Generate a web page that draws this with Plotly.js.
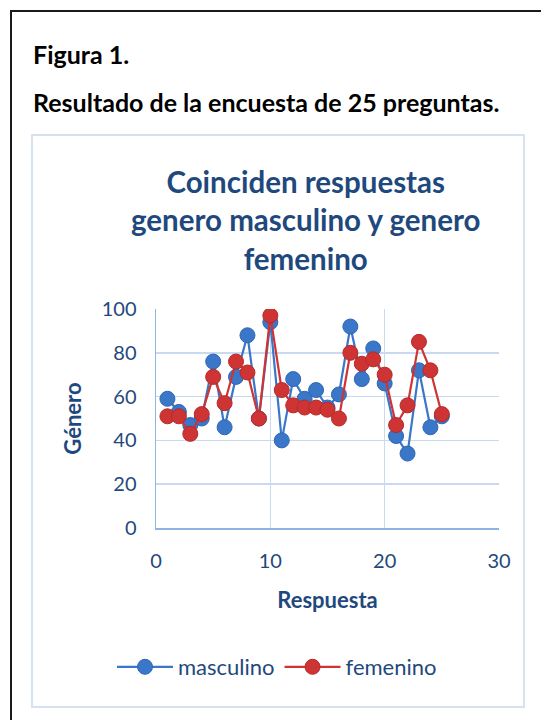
<!DOCTYPE html>
<html>
<head>
<meta charset="utf-8">
<script src="https://cdn.plot.ly/plotly-3.0.1.min.js"></script>
<style>
html,body{margin:0;padding:0;background:#fff;}
#chart{width:541px;height:720px;}
</style>
</head>
<body>
<div id="chart"></div>
<script>
const respuesta = [1,2,3,4,5,6,7,8,9,10,11,12,13,14,15,16,17,18,19,20,21,22,23,24,25];
const masculino = [59,53,47,50,76,46,69,88,50,94,40,68,59,63,55,61,92,68,82,66,42,34,72,46,51];
const femenino  = [51,51,43,52,69,57,76,71,50,97,63,56,55,55,54,50,80,75,77,70,47,56,85,72,52];
const xTicks = [0,10,20,30];
const yTicks = [0,20,40,60,80,100];

const navy = '#1f497d';
const gridC = '#c9daf0';
const axisC = '#8eb4e3';

const L=156, R=499, T=309, B=528, W=541, H=720;
const px = v => (v - L)/(R - L);
const py = v => (B - v)/(B - T);

const traces = [
  {x: respuesta, y: masculino, name: 'masculino', type: 'scatter', mode: 'lines+markers',
   line: {color: '#3a77c8', width: 2.2},
   marker: {color: '#3a77c8', size: 15, line: {color: '#2f67b3', width: 1}}},
  {x: respuesta, y: femenino, name: 'femenino', type: 'scatter', mode: 'lines+markers',
   line: {color: '#cf3434', width: 2.2},
   marker: {color: '#cf3434', size: 15, line: {color: '#b52a2a', width: 1}}}
];

const layout = {
  width: W, height: H,
  paper_bgcolor: '#fff', plot_bgcolor: '#fff',
  margin: {l: L, r: W - R, t: T, b: H - B, pad: 0},
  font: {family: 'Lato, "Open Sans", sans-serif', color: navy},
  showlegend: true,
  legend: {orientation: 'h', x: px(277), y: py(667), xanchor: 'center', yanchor: 'middle',
           itemwidth: 56,
           font: {size: 22, color: navy}, bgcolor: 'rgba(0,0,0,0)', tracegroupgap: 0},
  xaxis: {range: [0, 30], tickvals: xTicks, ticktext: xTicks.map(String),
          showgrid: true, gridcolor: gridC, gridwidth: 1.5,
          showline: true, linecolor: axisC, linewidth: 1.5, zeroline: false,
          ticks: '', ticklabelstandoff: 14, tickfont: {size: 20, color: navy},
          title: {text: '<b>Respuesta</b>', font: {size: 22, color: navy}, standoff: 22}},
  yaxis: {range: [0, 100], tickvals: yTicks, ticktext: yTicks.map(String),
          showgrid: true, gridcolor: gridC, gridwidth: 1.5,
          showline: true, linecolor: axisC, linewidth: 1.5, zeroline: false,
          ticks: '', ticklabelstandoff: 14, tickfont: {size: 20, color: navy},
          title: {text: '<b>Género</b>', font: {size: 22, color: navy}, standoff: 14}},
  annotations: [
    {xref: 'paper', yref: 'paper', x: px(31), y: py(54), xanchor: 'left', yanchor: 'middle',
     text: '<b>Figura 1.</b>', showarrow: false, font: {size: 25, color: '#000', family: 'Lato, sans-serif'}},
    {xref: 'paper', yref: 'paper', x: px(31), y: py(102), xanchor: 'left', yanchor: 'middle',
     text: '<b>Resultado de la encuesta de 25 preguntas.</b>', showarrow: false,
     font: {size: 25, color: '#000', family: 'Lato, sans-serif'}},
    {xref: 'paper', yref: 'paper', x: px(305), y: py(220), xanchor: 'center', yanchor: 'middle',
     text: '<b>Coinciden respuestas<br>genero masculino y genero<br>femenino</b>', showarrow: false,
     align: 'center', font: {size: 29.5, color: navy, family: 'Lato, sans-serif'}}
  ],
  shapes: [
    {type: 'line', xref: 'paper', yref: 'paper', x0: px(11), x1: px(11), y0: py(11), y1: py(721),
     line: {color: '#1a1a1a', width: 2}},
    {type: 'line', xref: 'paper', yref: 'paper', x0: px(10), x1: px(542), y0: py(11), y1: py(11),
     line: {color: '#1a1a1a', width: 2}},
    {type: 'rect', xref: 'paper', yref: 'paper', x0: px(32), x1: px(524), y0: py(135), y1: py(707),
     line: {color: '#d5e2f2', width: 2}, fillcolor: 'rgba(0,0,0,0)'}
  ]
};

Plotly.newPlot('chart', traces, layout, {displayModeBar: false, staticPlot: true});
</script>
</body>
</html>
